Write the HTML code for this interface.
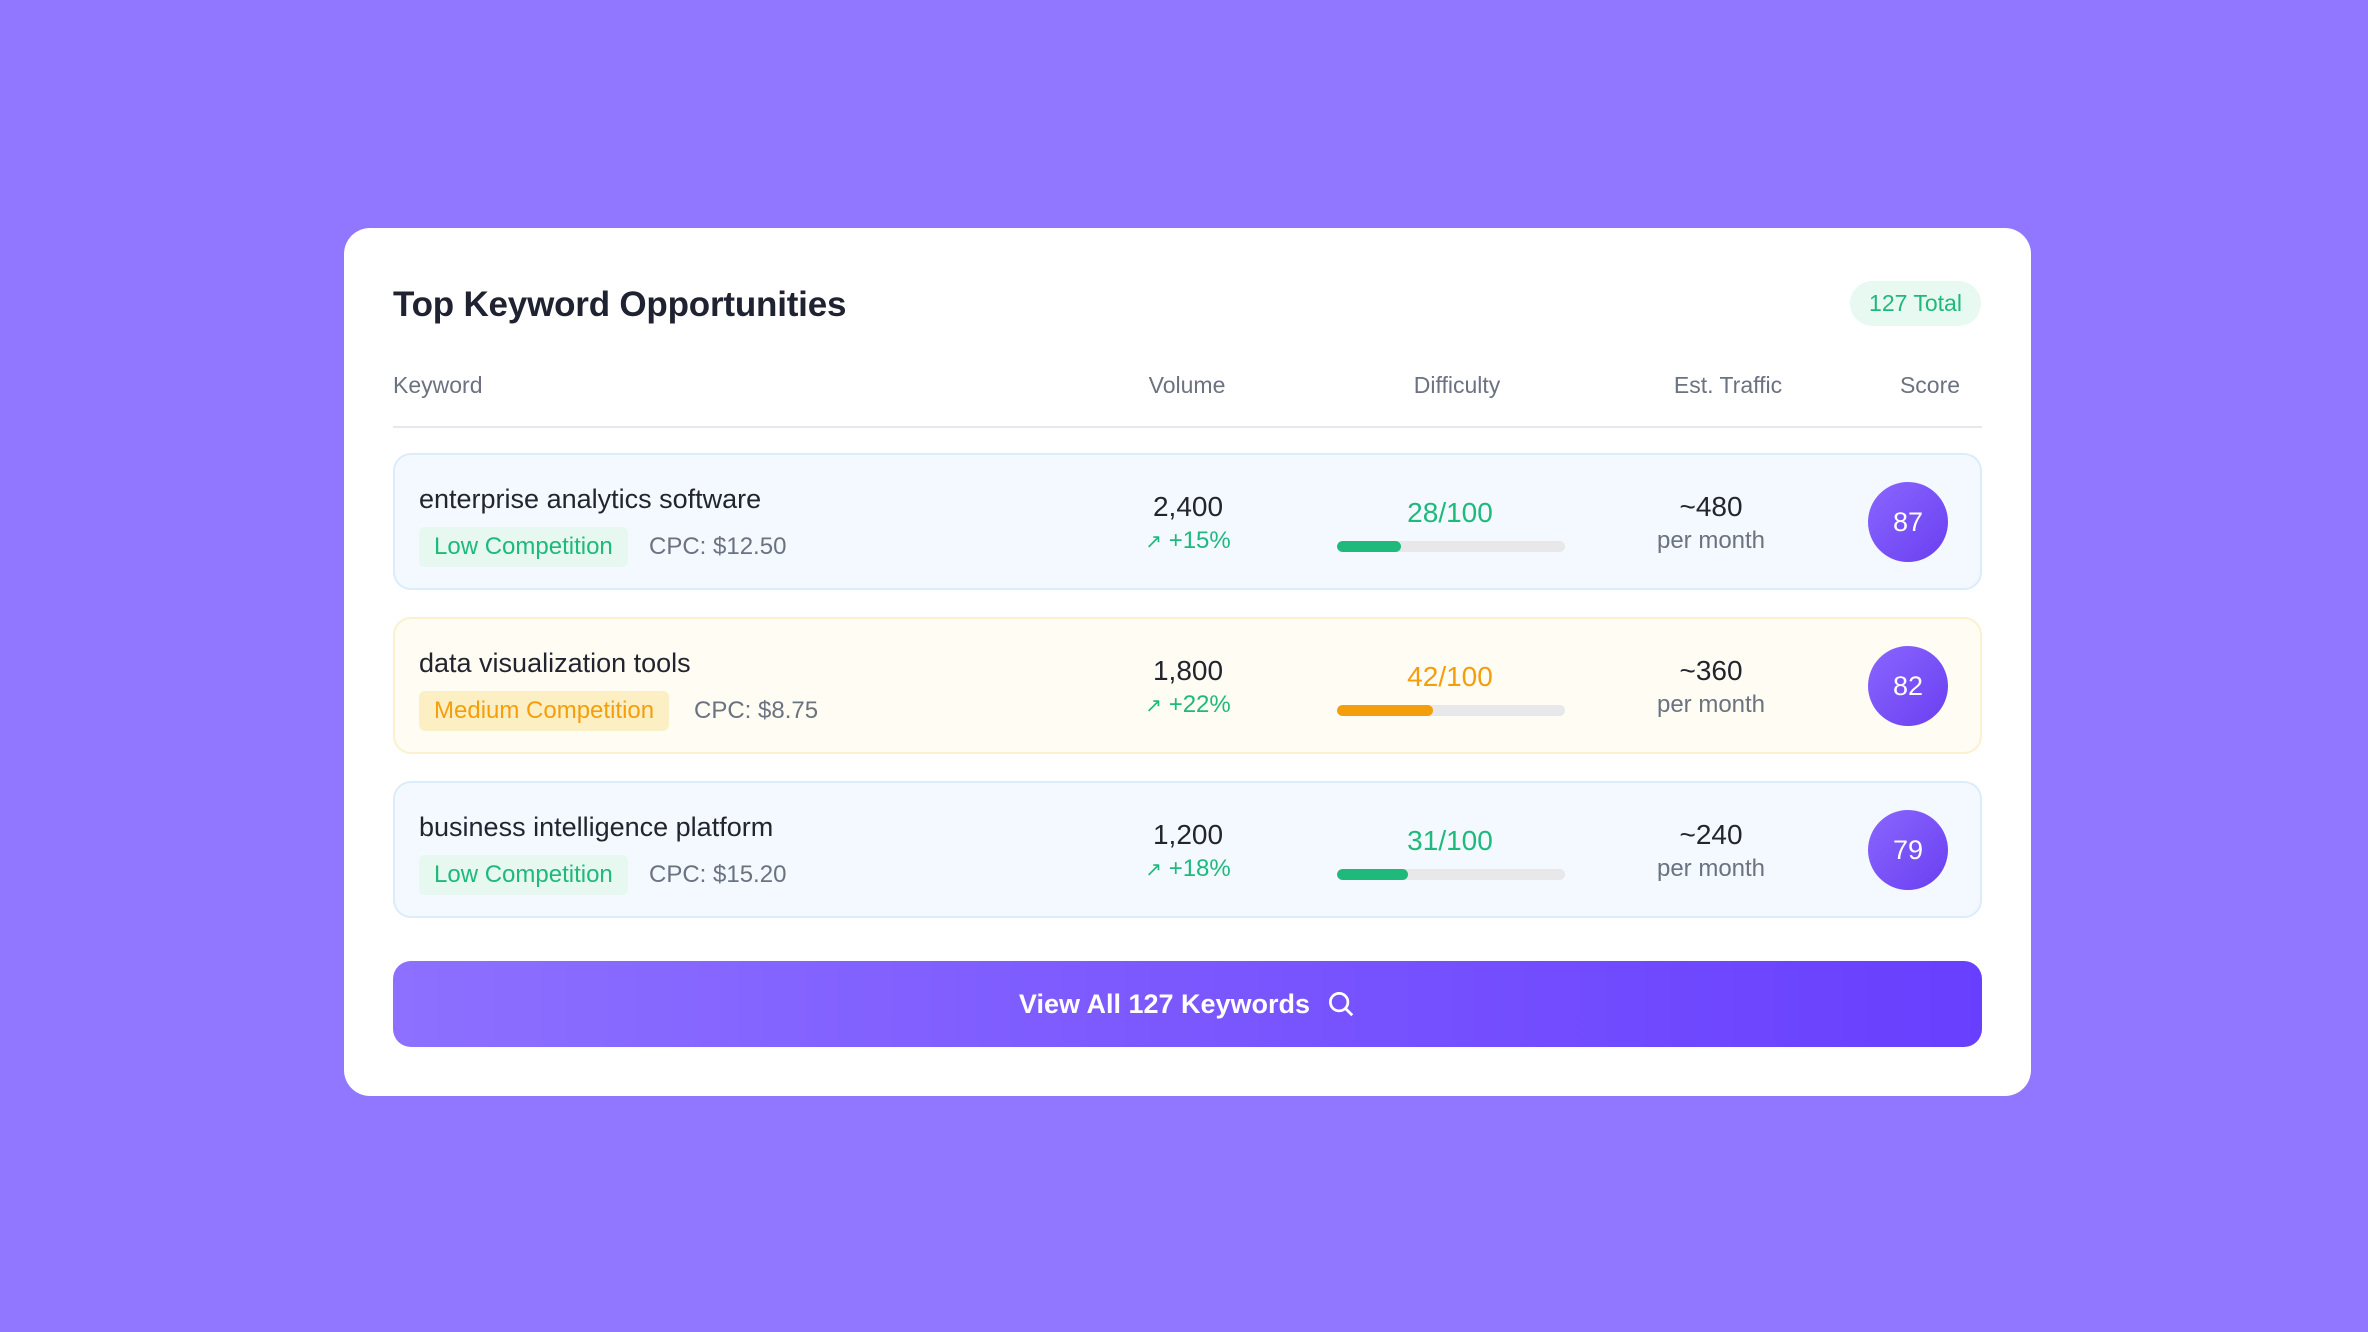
<!DOCTYPE html>
<html><head><meta charset="utf-8">
<style>
*{box-sizing:border-box;margin:0;padding:0}
body{width:2368px;height:1332px;background:#9176ff;font-family:"Liberation Sans",sans-serif;position:relative;overflow:hidden}
.card{position:absolute;left:344px;top:228px;width:1687px;height:868px;background:#fff;border-radius:26px}
.title{position:absolute;left:49px;top:57px;font-size:35px;font-weight:bold;color:#1f2230;letter-spacing:-0.2px}
.pill{position:absolute;left:1506px;top:53px;width:131px;height:45px;border-radius:23px;background:#e8f9f1;color:#1fb97c;font-size:23px;display:flex;align-items:center;justify-content:center}
.hdr{position:absolute;top:144px;font-size:23px;color:#6b7280}
.hline{position:absolute;left:49px;top:198px;width:1589px;height:2px;background:#e6e8ee}
.row{position:absolute;left:49px;width:1589px;height:137px;border-radius:18px;border:2px solid}
.kw{position:absolute;left:24px;top:29px;font-size:27px;color:#22252f}
.badge{position:absolute;left:24px;top:72px;height:40px;padding:0 15px;border-radius:6px;font-size:24px;display:flex;align-items:center}
.cpc{position:absolute;top:72px;height:40px;font-size:24px;color:#6b7280;display:flex;align-items:center}
.c{position:absolute;text-align:center;transform:translateX(-50%);white-space:nowrap}
.num{font-size:28px;color:#22252f;top:36px}
.trend{font-size:24px;color:#1fb97c;top:72px}
.diff{font-size:28px;top:42px}
.bar{position:absolute;left:942px;top:86px;width:228px;height:11px;border-radius:6px;background:#e8e8ea;overflow:hidden}
.fill{height:100%;border-radius:6px}
.pm{font-size:24px;color:#6b7280;top:72px}
.score{position:absolute;left:1473px;top:27px;width:80px;height:80px;border-radius:50%;background:linear-gradient(135deg,#8a66ff,#6a3ff0);color:#fff;font-size:27px;display:flex;align-items:center;justify-content:center}
.btn{position:absolute;left:49px;top:733px;width:1589px;height:86px;border-radius:18px;background:linear-gradient(90deg,#8d70ff,#683ffe);color:#fff;font-size:27px;font-weight:bold;display:flex;align-items:center;justify-content:center;gap:16px}
</style></head><body>
<div class="card">
<div class="title">Top Keyword Opportunities</div>
<div class="pill">127 Total</div>
<div class="hdr" style="left:49px">Keyword</div>
<div class="hdr c" style="left:843px">Volume</div>
<div class="hdr c" style="left:1113px">Difficulty</div>
<div class="hdr c" style="left:1384px">Est. Traffic</div>
<div class="hdr c" style="left:1586px">Score</div>
<div class="hline"></div>
<div id="rows"></div>
<div class="btn">View All 127 Keywords
<svg width="30" height="30" viewBox="0 0 24 24" fill="none" stroke="#fff" stroke-width="2.2"><circle cx="10.5" cy="10.5" r="7"/><path d="M16 16l5 5"/></svg></div>
</div>
<script>
const keywords=["enterprise analytics software","data visualization tools","business intelligence platform"];
const competition=["Low Competition","Medium Competition","Low Competition"];
const cpc=["CPC: $12.50","CPC: $8.75","CPC: $15.20"];
const volumes=["2,400","1,800","1,200"];
const trends=["+15%","+22%","+18%"];
const difficulty=[28,42,31];
const traffic=["~480","~360","~240"];
const scores=[87,82,79];
const tops=[225,389,553];
const wrap=document.getElementById('rows');
keywords.forEach((k,i)=>{
  const med=competition[i].startsWith('Medium');
  const r=document.createElement('div');
  r.className='row';
  
  
  r.style.top=tops[i]+'px';
  r.style.background=med?'#fffcf3':'#f3f9ff';
  r.style.borderColor=med?'#fdf0cf':'#dcecfb';
  const col=med?'#f59e0b':'#1fb97c';
  const bcol=med?'#fdefc4':'#e6f8ef';
  r.innerHTML=`<div class="kw">${k}</div>
<div class="badge" style="background:${bcol};color:${col}">${competition[i]}</div>
<div class="cpc" style="left:${med?299:254}px">${cpc[i]}</div>
<div class="c num" style="left:793px">${volumes[i]}</div>
<div class="c trend" style="left:793px"><span style="font-size:20px">↗</span> ${trends[i]}</div>
<div class="c diff" style="left:1055px;color:${col}">${difficulty[i]}/100</div>
<div class="bar"><div class="fill" style="width:${difficulty[i]}%;background:${col}"></div></div>
<div class="c num" style="left:1316px">${traffic[i]}</div>
<div class="c pm" style="left:1316px">per month</div>
<div class="score">${scores[i]}</div>`;
  r.querySelector('.kw');
  r.querySelector('.kw');
  r.querySelector('.badge');
  r.querySelector('.badge');
  r.querySelector('.bar');
  r.querySelector('.bar');
  r.querySelector('.score');
  r.querySelector('.score');
  wrap.appendChild(r);
});
</script>
</body></html>
